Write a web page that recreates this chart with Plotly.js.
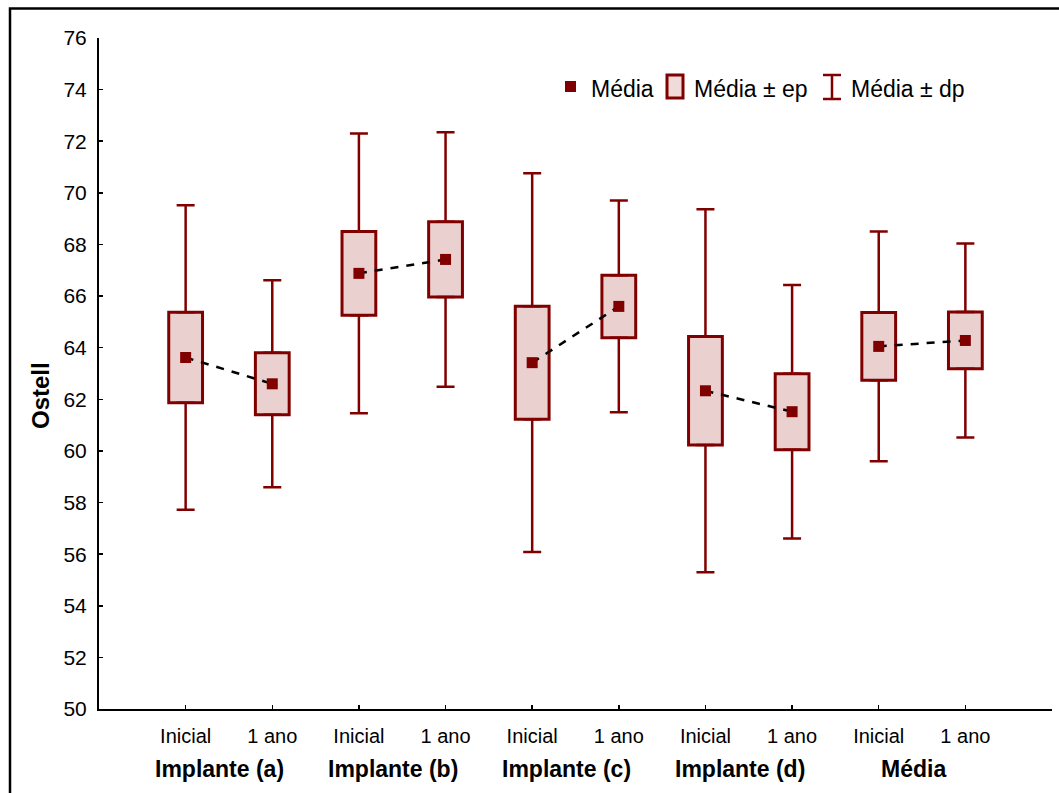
<!DOCTYPE html>
<html><head><meta charset="utf-8">
<script src="https://cdn.plot.ly/plotly-3.0.1.min.js"></script>
<style>html,body{margin:0;padding:0;background:#fff}#chart{width:1059px;height:793px}</style>
</head><body><div id="chart"></div>
<script>
const groups = ['Implante (a)', 'Implante (b)', 'Implante (c)', 'Implante (d)', 'Média'];
const times = ['Inicial', '1 ano'];
const media = [63.62, 62.60, 66.88, 67.42, 63.42, 65.60, 62.33, 61.52, 64.05, 64.28];
const ep = [1.75, 1.20, 1.62, 1.46, 2.19, 1.21, 2.10, 1.47, 1.31, 1.10];
const dp = [5.90, 4.01, 5.42, 4.93, 7.34, 4.10, 7.03, 4.91, 4.45, 3.76];
const legendLabels = ['Média', 'Média ± ep', 'Média ± dp'];

const DARK = '#800000';
const FILL = '#f1dada';
const FONT = 'Liberation Sans, Arial, sans-serif';
const xs = media.map((_, i) => i);
const tickText = groups.flatMap(() => times);
const zeros = media.map(() => 0);

// page-pixel -> paper helpers (plot area: x 99..1052, y 38..709)
const M = { l: 99, r: 7, t: 38, b: 84 }, W = 1059, H = 793;
const pw = W - M.l - M.r, ph = H - M.t - M.b;
const px = p => (p - M.l) / pw;
const py = p => (H - M.b - p) / ph;

// dashed connecting line: one segment per group
const lineX = [], lineY = [];
groups.forEach((g, gi) => {
  times.forEach((t, ti) => { lineX.push(gi * times.length + ti); lineY.push(media[gi * times.length + ti]); });
  lineX.push(null); lineY.push(null);
});

const traces = [
  { type: 'bar', name: legendLabels[1], x: xs, y: ep.map(e => 2 * e), base: media.map((m, i) => m - ep[i]),
    width: 0.39, showlegend: false,
    marker: { color: FILL, line: { color: DARK, width: 3 },
              pattern: { shape: '.', fgcolor: '#dcb0b0', bgcolor: '#f8eaea', size: 2, solidity: 0.5 } },
    hoverinfo: 'skip' },
  { type: 'scatter', mode: 'markers', name: legendLabels[2], showlegend: false,
    x: xs, y: media.map((m, i) => m + ep[i]),
    marker: { color: DARK, size: 1, opacity: 0 },
    error_y: { type: 'data', symmetric: false, array: dp.map((d, i) => d - ep[i]), arrayminus: zeros,
               width: 9, thickness: 2.5, color: DARK } },
  { type: 'scatter', mode: 'markers', name: legendLabels[2] + ' (inf)', showlegend: false,
    x: xs, y: media.map((m, i) => m - ep[i]),
    marker: { color: DARK, size: 1, opacity: 0 },
    error_y: { type: 'data', symmetric: false, array: zeros, arrayminus: dp.map((d, i) => d - ep[i]),
               width: 9, thickness: 2.5, color: DARK } },
  { type: 'scatter', mode: 'lines', x: lineX, y: lineY, showlegend: false, connectgaps: false,
    line: { color: '#000', width: 2.5, dash: '8px,8px' }, hoverinfo: 'skip' },
  { type: 'scatter', mode: 'markers', name: legendLabels[0], showlegend: false, x: xs, y: media,
    marker: { symbol: 'square', color: DARK, size: 11 } }
];

const annotations = groups.map((g, gi) => ({
  text: '<b>' + g + '</b>', xref: 'x', yref: 'paper',
  x: gi * times.length + (times.length - 1) / 2, y: py(769), xshift: -9,
  xanchor: 'center', yanchor: 'middle', showarrow: false,
  font: { family: FONT, size: 23, color: '#000' }
}));
annotations.push({
  text: '<b>Ostell</b>', xref: 'paper', yref: 'paper', x: px(40), y: py(396),
  textangle: -90, xanchor: 'center', yanchor: 'middle', showarrow: false,
  font: { family: FONT, size: 24, color: '#000' }
});
// legend texts
[[589, legendLabels[0]], [692, legendLabels[1]], [849, legendLabels[2]]].forEach(([x, t]) => {
  annotations.push({ text: t, xref: 'paper', yref: 'paper', x: px(x), y: py(88.5),
    xanchor: 'left', yanchor: 'middle', showarrow: false,
    font: { family: FONT, size: 23, color: '#000' } });
});

const shapes = [
  // outer frame (right and bottom edges fall outside the page)
  { type: 'rect', xref: 'paper', yref: 'paper', x0: px(10), x1: px(1400), y0: py(1100), y1: py(8.5),
    line: { color: '#000', width: 2.5 }, fillcolor: 'rgba(0,0,0,0)', layer: 'above' },
  // legend icons
  { type: 'rect', xref: 'paper', yref: 'paper', x0: px(565), x1: px(576), y0: py(92), y1: py(81),
    line: { width: 0 }, fillcolor: DARK },
  { type: 'rect', xref: 'paper', yref: 'paper', x0: px(667), x1: px(683), y0: py(98), y1: py(75),
    line: { color: DARK, width: 3 }, fillcolor: FILL },
  { type: 'line', xref: 'paper', yref: 'paper', x0: px(832), x1: px(832), y0: py(99), y1: py(75),
    line: { color: DARK, width: 2.5 } },
  { type: 'line', xref: 'paper', yref: 'paper', x0: px(823), x1: px(841), y0: py(75), y1: py(75),
    line: { color: DARK, width: 2.5 } },
  { type: 'line', xref: 'paper', yref: 'paper', x0: px(823), x1: px(841), y0: py(99), y1: py(99),
    line: { color: DARK, width: 2.5 } }
];

const layout = {
  width: W, height: H,
  margin: M,
  paper_bgcolor: '#fff', plot_bgcolor: '#fff',
  font: { family: FONT, size: 20, color: '#000' },
  barmode: 'overlay',
  showlegend: false,
  xaxis: { range: [-1, 10], tickmode: 'array', tickvals: xs.concat([10]), ticktext: tickText.concat(['']),
           showgrid: false, zeroline: false, showline: true, linecolor: '#000', linewidth: 2,
           ticks: 'inside', ticklen: 4, tickwidth: 1.5, tickcolor: '#000', ticklabelstandoff: 8,
           tickfont: { family: FONT, size: 20, color: '#000' }, fixedrange: true },
  yaxis: { range: [50, 76], tickmode: 'linear', tick0: 50, dtick: 2,
           showgrid: false, zeroline: false, showline: true, linecolor: '#000', linewidth: 2,
           ticks: 'inside', ticklen: 4, tickwidth: 1.5, tickcolor: '#000', ticklabelstandoff: 6,
           tickfont: { family: FONT, size: 21, color: '#000' }, fixedrange: true },
  shapes: shapes,
  annotations: annotations
};

Plotly.newPlot('chart', traces, layout, { displayModeBar: false, staticPlot: true });
</script></body></html>
